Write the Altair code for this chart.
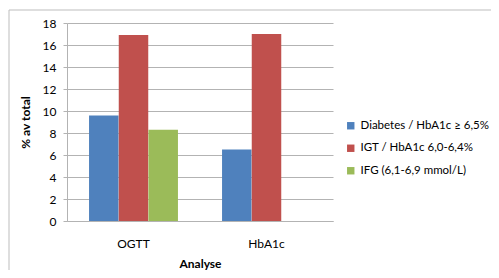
import altair as alt
import pandas as pd

categories = ["OGTT", "OGTT", "OGTT", "HbA1c", "HbA1c"]
series = ["Diabetes / HbA1c ≥ 6,5%", "IGT / HbA1c 6,0-6,4%", "IFG   (6,1-6,9 mmol/L)",
          "Diabetes / HbA1c ≥ 6,5%", "IGT / HbA1c 6,0-6,4%"]
values = [9.6, 16.9, 8.3, 6.5, 17.0]
series_order = ["Diabetes / HbA1c ≥ 6,5%", "IGT / HbA1c 6,0-6,4%", "IFG   (6,1-6,9 mmol/L)"]
colors = ["#4F81BD", "#C0504D", "#9BBB59"]

df = pd.DataFrame({"Analyse": categories, "Serie": series, "Verdi": values})

FONT = "Lato"

bars = alt.Chart(df).mark_bar(size=29.5).encode(
    x=alt.X("Analyse:N", sort=["OGTT", "HbA1c"],
            scale=alt.Scale(paddingInner=0.33, paddingOuter=0.165),
            axis=alt.Axis(title="Analyse", labelAngle=0, ticks=False, grid=False,
                          domainColor="#b3b3b3", labelPadding=17, titlePadding=9,
                          labelFontSize=12, titleFontSize=12, titleFontWeight="bold",
                          labelColor="#000", titleColor="#000", labelFont=FONT, titleFont=FONT)),
    xOffset=alt.XOffset("Serie:N", sort=series_order, scale=alt.Scale(domain=series_order, paddingInner=0, paddingOuter=0)),
    y=alt.Y("Verdi:Q", scale=alt.Scale(domain=[0, 18], nice=False),
            axis=alt.Axis(title="% av total", values=list(range(0, 19, 2)), tickSize=4,
                          tickColor="#b3b3b3", domainColor="#b3b3b3", gridColor="#b3b3b3",
                          labelPadding=7, titlePadding=10, labelFontSize=12, titleFontSize=12,
                          titleFontWeight="bold", labelColor="#000", titleColor="#000",
                          labelFont=FONT, titleFont=FONT)),
    color=alt.Color("Serie:N", sort=series_order,
                    scale=alt.Scale(domain=series_order, range=colors),
                    legend=alt.Legend(title=None, orient="none", legendX=278, legendY=97,
                                      symbolType="square", symbolSize=55, symbolStrokeWidth=0,
                                      labelFontSize=11.5, labelFont=FONT, labelColor="#000",
                                      rowPadding=9.5, labelOffset=4, labelLimit=200)),
)

border_df = pd.DataFrame({"k": [0]})
border = alt.Chart(border_df).mark_rect(fill=None, stroke="#bdbdbd", strokeWidth=1).encode(
    x=alt.value(-58), x2=alt.value(560), y=alt.value(-13), y2=alt.value(320)
)

chart = alt.layer(border, bars).properties(
    width=266, height=198,
    autosize=alt.AutoSizeParams(type="none"),
    padding={"left": 59, "top": 15, "right": 158, "bottom": 49},
).configure_view(stroke=None)

chart.save("out.html", embed_options={"renderer": "svg", "actions": False})
